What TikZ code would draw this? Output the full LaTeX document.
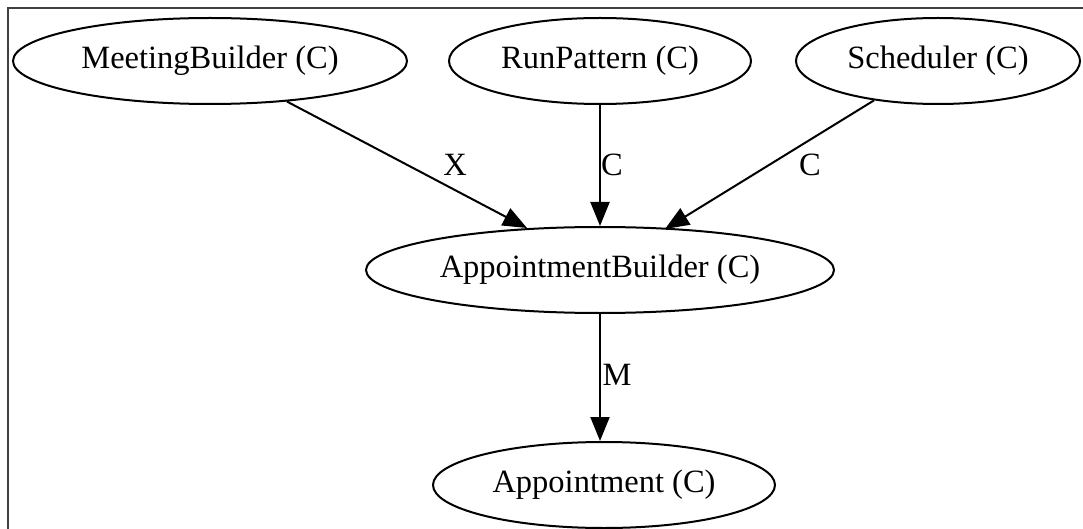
\documentclass[tikz,border=0pt]{standalone}
\usepackage{fontspec}
\setmainfont{Liberation Serif}
\usetikzlibrary{shapes.geometric,arrows.meta}
\begin{document}
\begin{tikzpicture}[x=1pt,y=-1pt,
  cls/.style={ellipse,draw,line width=2pt,inner sep=0pt,minimum height=86pt,
    font=\fontsize{32.5}{38}\selectfont},
  dep/.style={draw,line width=2pt,-{Triangle[length=24pt,width=19pt]}},
  lbl/.style={font=\fontsize{32.5}{38}\selectfont,inner sep=0pt}]
\useasboundingbox (0,0) rectangle (1083,529);
% frame lines along the top and left edges
\draw[line width=2pt,black!75] (8,529) -- (8,8) -- (1083,8);
% class nodes
\node[cls,minimum width=394pt] (mb) at (210,61) {MeetingBuilder (C)};
\node[cls,minimum width=302pt] (rp) at (600,61) {RunPattern (C)};
\node[cls,minimum width=284pt] (sc) at (938,61) {Scheduler (C)};
\node[cls,minimum width=468pt] (ab) at (600,270) {AppointmentBuilder (C)};
\node[cls,minimum width=342pt] (ap) at (604,485) {Appointment (C)};
% arrow ends on the upper rim of AppointmentBuilder
\coordinate (in1) at (527,228);
\coordinate (in3) at (665,229);
% dependencies
\draw[dep] (mb) -- (in1);
\draw[dep] (sc) -- (in3);
\draw[dep] (rp.south) -- (ab.north);
\draw[dep] (ab.south) -- (ap.north -| ab.south);
% edge labels
\node[lbl] (lx) at (455,165) {X};
\node[lbl] (lc1) at (612,165) {C};
\node[lbl] (lc2) at (810,165) {C};
\node[lbl] (lm) at (617,375) {M};
\end{tikzpicture}
\end{document}
